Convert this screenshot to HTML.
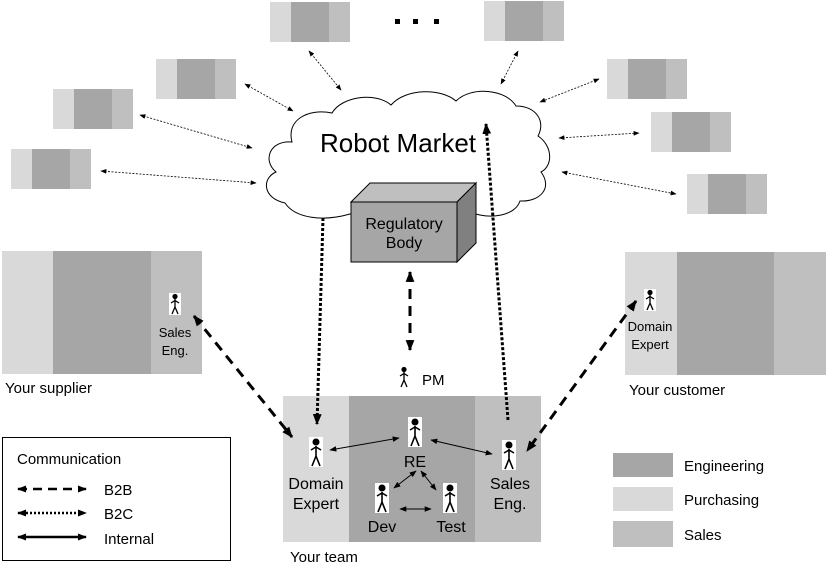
<!DOCTYPE html>
<html><head><meta charset="utf-8"><style>
html,body{margin:0;padding:0;background:#fff;}
svg{display:block;font-family:"Liberation Sans",Arial,sans-serif;}
</style></head><body>
<svg width="826" height="564" viewBox="0 0 826 564" xmlns="http://www.w3.org/2000/svg">
<defs>
<marker id="ah" viewBox="0 0 10 10" refX="9" refY="5" markerUnits="userSpaceOnUse" markerWidth="11" markerHeight="11" orient="auto-start-reverse"><path d="M0,1 L10,5 L0,9 z" fill="#000"/></marker>
<marker id="al" viewBox="0 0 10 10" refX="9" refY="5" markerUnits="userSpaceOnUse" markerWidth="9" markerHeight="9" orient="auto-start-reverse"><path d="M0,1 L10,5 L0,9 z" fill="#000"/></marker>
<marker id="as" viewBox="0 0 10 10" refX="9" refY="5" markerUnits="userSpaceOnUse" markerWidth="7" markerHeight="7" orient="auto-start-reverse"><path d="M0,1 L10,5 L0,9 z" fill="#000"/></marker>
<marker id="am" viewBox="0 0 10 10" refX="9" refY="5" markerUnits="userSpaceOnUse" markerWidth="6" markerHeight="6" orient="auto-start-reverse"><path d="M0,1 L10,5 L0,9 z" fill="#000"/></marker>
<g id="p">
<rect x="-7" y="-15" width="14" height="30" fill="#fff"/>
<circle cx="0" cy="-10" r="3.5" fill="#000"/>
<path d="M0,-6 L0,4 M-5,-2 L0,-5 L5,-2 M0,4 L-4,14 M0,4 L4,14" stroke="#000" stroke-width="1.6" fill="none"/>
</g>
<g id="ps">
<rect x="-6" y="-11" width="12" height="22" fill="#fff"/>
<circle cx="0" cy="-7.5" r="2.6" fill="#000"/>
<path d="M0,-5 L0,3 M-4,-1 L0,-3.5 L4,-1 M0,3 L-3,10 M0,3 L3,10" stroke="#000" stroke-width="1.3" fill="none"/>
</g>
<g id="sb">
<rect x="0" y="0" width="21" height="40" fill="#d9d9d9"/>
<rect x="21" y="0" width="38" height="40" fill="#a6a6a6"/>
<rect x="59" y="0" width="21" height="40" fill="#bfbfbf"/>
</g>
</defs>

<use href="#sb" x="270" y="2"/>
<use href="#sb" x="156" y="59"/>
<use href="#sb" x="53" y="89"/>
<use href="#sb" x="11" y="149"/>
<use href="#sb" x="484" y="1"/>
<use href="#sb" x="607" y="59"/>
<use href="#sb" x="651" y="112"/>
<use href="#sb" x="687" y="174"/>

<rect x="395" y="19" width="5" height="5" fill="#000"/>
<rect x="413" y="19" width="5" height="5" fill="#000"/>
<rect x="434" y="19" width="5" height="5" fill="#000"/>

<g stroke="#000" stroke-width="0.8" stroke-dasharray="2,1.5" fill="none" marker-start="url(#am)" marker-end="url(#am)">
<line x1="309" y1="51" x2="341" y2="90"/>
<line x1="245" y1="84" x2="293" y2="111"/>
<line x1="140" y1="115" x2="252" y2="148"/>
<line x1="101" y1="171" x2="256" y2="183"/>
<line x1="518" y1="51" x2="501" y2="84"/>
<line x1="599" y1="79" x2="540" y2="102"/>
<line x1="559" y1="138" x2="639" y2="133"/>
<line x1="562" y1="172" x2="676" y2="194"/>
</g>

<path d="M285,203 C262,198 262,178 276,172 C262,160 270,140 292,142 C286,120 308,108 332,113 C342,96 376,92 391,105 C406,88 441,88 456,101 C471,86 506,89 516,106 C536,106 546,121 538,136 C553,146 553,166 541,172 C553,188 540,202 520,201 C515,216 490,220 470,212 L350,214 C322,222 295,218 285,203 Z" fill="#fff" stroke="#000" stroke-width="1"/>
<text x="398" y="152" font-size="26" text-anchor="middle">Robot Market</text>

<polygon points="351,202 370,183 476,183 457,202" fill="#bfbfbf" stroke="#000" stroke-width="1"/>
<polygon points="457,202 476,183 476,243 457,262" fill="#808080" stroke="#000" stroke-width="1"/>
<rect x="351" y="202" width="106" height="60" fill="#a6a6a6" stroke="#000" stroke-width="1"/>
<text x="404" y="229" font-size="16" text-anchor="middle">Regulatory</text>
<text x="404" y="248" font-size="16" text-anchor="middle">Body</text>

<rect x="2" y="251" width="51" height="123" fill="#d9d9d9"/>
<rect x="53" y="251" width="98" height="123" fill="#a6a6a6"/>
<rect x="151" y="251" width="51" height="123" fill="#bfbfbf"/>
<use href="#ps" x="175" y="304"/>
<text x="175" y="337" font-size="13" text-anchor="middle">Sales</text>
<text x="175" y="355" font-size="13" text-anchor="middle">Eng.</text>
<text x="5" y="393" font-size="15">Your supplier</text>

<rect x="625" y="252" width="52" height="123" fill="#d9d9d9"/>
<rect x="677" y="252" width="97" height="123" fill="#a6a6a6"/>
<rect x="774" y="252" width="52" height="123" fill="#bfbfbf"/>
<use href="#ps" x="650" y="300"/>
<text x="650" y="331" font-size="13" text-anchor="middle">Domain</text>
<text x="650" y="349" font-size="13" text-anchor="middle">Expert</text>
<text x="629" y="395" font-size="15">Your customer</text>

<rect x="283" y="396" width="66" height="146" fill="#d9d9d9"/>
<rect x="349" y="396" width="126" height="146" fill="#a6a6a6"/>
<rect x="475" y="396" width="66" height="146" fill="#bfbfbf"/>
<use href="#p" x="316" y="452"/>
<use href="#p" x="415" y="432"/>
<use href="#p" x="509" y="455"/>
<use href="#p" x="382" y="498"/>
<use href="#p" x="450" y="498"/>
<text x="316" y="489" font-size="16" text-anchor="middle">Domain</text>
<text x="316" y="509" font-size="16" text-anchor="middle">Expert</text>
<text x="415" y="467" font-size="16" text-anchor="middle">RE</text>
<text x="510" y="489" font-size="16" text-anchor="middle">Sales</text>
<text x="510" y="509" font-size="16" text-anchor="middle">Eng.</text>
<text x="382" y="532" font-size="16" text-anchor="middle">Dev</text>
<text x="451" y="532" font-size="16" text-anchor="middle">Test</text>
<text x="290" y="562" font-size="15">Your team</text>

<use href="#ps" x="404" y="377"/>
<text x="422" y="385" font-size="15">PM</text>

<g stroke="#000" stroke-width="1" marker-start="url(#as)" marker-end="url(#as)">
<line x1="330" y1="450" x2="399" y2="438"/>
<line x1="431" y1="440" x2="492" y2="454"/>
<line x1="394" y1="488" x2="416" y2="471"/>
<line x1="421" y1="471" x2="436" y2="490"/>
<line x1="400" y1="509" x2="431" y2="509"/>
</g>

<g stroke="#000" stroke-width="3" stroke-dasharray="10,7" fill="none" marker-start="url(#ah)" marker-end="url(#ah)">
<line x1="194" y1="316" x2="292" y2="437"/>
<line x1="636" y1="301" x2="527" y2="451"/>
<line x1="410" y1="272" x2="410" y2="350"/>
</g>

<g stroke="#000" stroke-width="3" stroke-dasharray="3,2" fill="none">
<line x1="323" y1="218" x2="317" y2="424" marker-end="url(#ah)"/>
<line x1="508" y1="420" x2="486" y2="124" marker-end="url(#ah)"/>
</g>

<rect x="2.5" y="437.5" width="228" height="123" fill="#fff" stroke="#000" stroke-width="1"/>
<text x="17" y="464" font-size="15">Communication</text>
<line x1="18" y1="489" x2="86" y2="489" stroke="#000" stroke-width="2.5" stroke-dasharray="9,6" marker-start="url(#al)" marker-end="url(#al)"/>
<line x1="18" y1="513" x2="86" y2="513" stroke="#000" stroke-width="2.5" stroke-dasharray="2,2" marker-start="url(#al)" marker-end="url(#al)"/>
<line x1="18" y1="537" x2="86" y2="537" stroke="#000" stroke-width="2.5" marker-start="url(#al)" marker-end="url(#al)"/>
<text x="104" y="495" font-size="15">B2B</text>
<text x="104" y="519" font-size="15">B2C</text>
<text x="104" y="544" font-size="15">Internal</text>

<rect x="613" y="453" width="60" height="24" fill="#a6a6a6"/>
<rect x="613" y="487" width="60" height="24" fill="#d9d9d9"/>
<rect x="613" y="521" width="60" height="26" fill="#bfbfbf"/>
<text x="684" y="471" font-size="15">Engineering</text>
<text x="684" y="505" font-size="15">Purchasing</text>
<text x="684" y="540" font-size="15">Sales</text>
</svg>
</body></html>
